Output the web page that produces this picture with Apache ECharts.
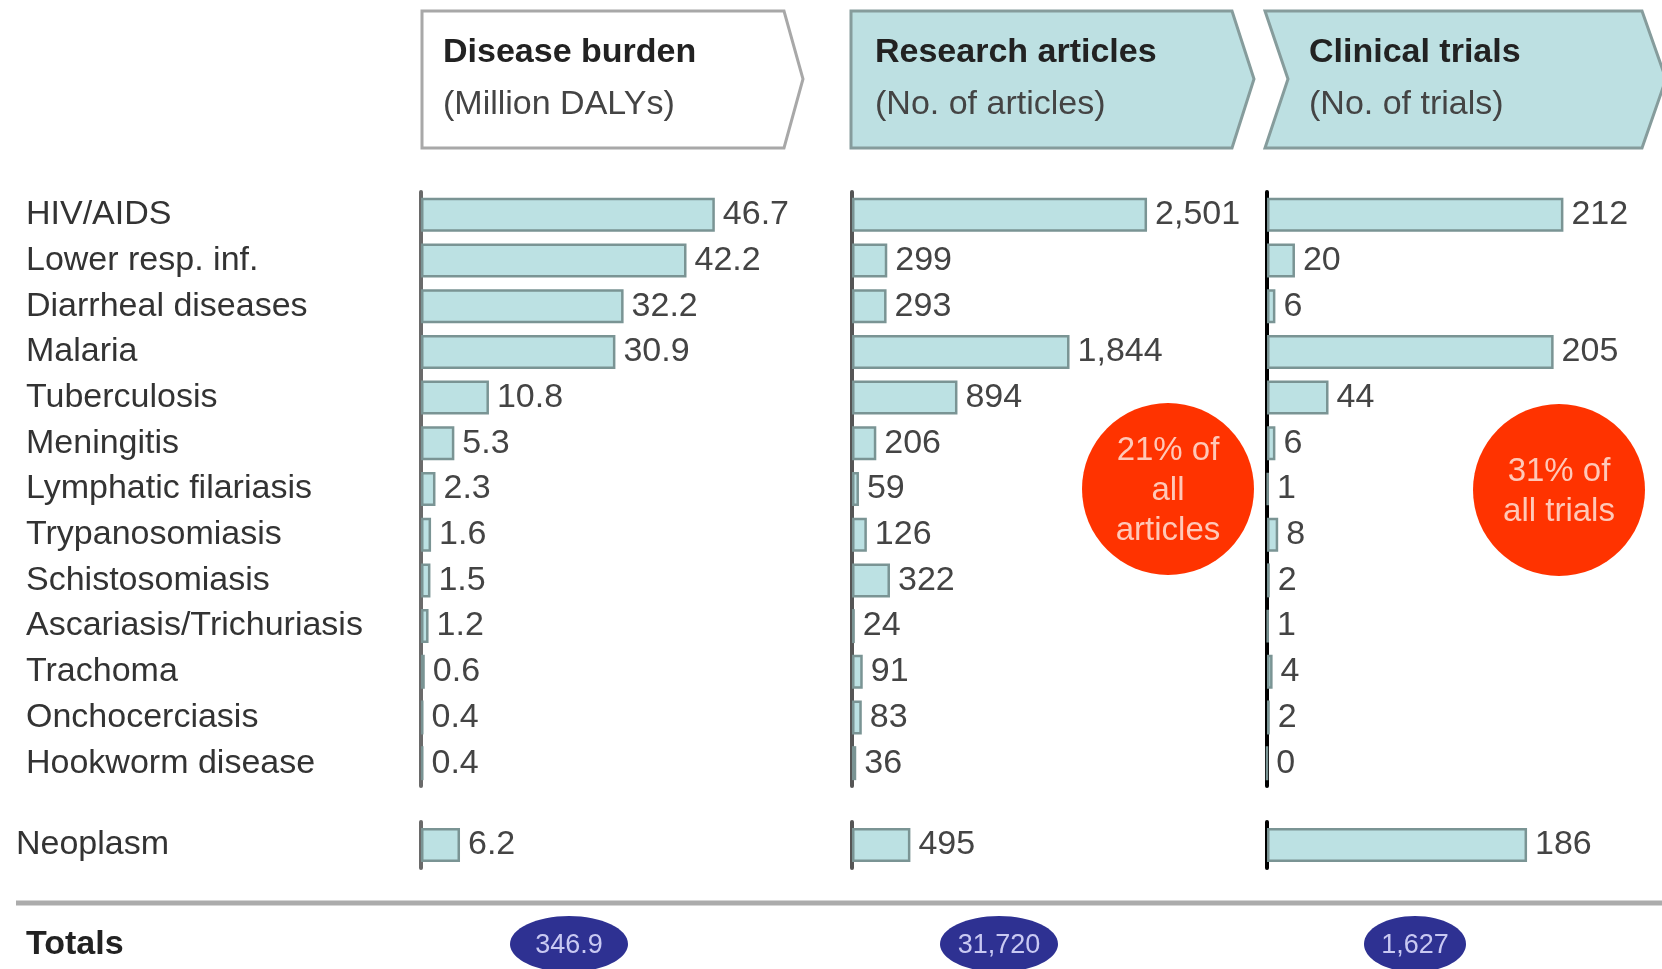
<!DOCTYPE html>
<html><head><meta charset="utf-8">
<script src="https://cdn.jsdelivr.net/npm/echarts@6/dist/echarts.min.js"></script>
<style>html,body{margin:0;padding:0;background:#fff}#c{width:1662px;height:969px}</style>
</head><body><div id="c"></div>
<script>
// ---- data ----
const categories = ['HIV/AIDS','Lower resp. inf.','Diarrheal diseases','Malaria','Tuberculosis','Meningitis','Lymphatic filariasis','Trypanosomiasis','Schistosomiasis','Ascariasis/Trichuriasis','Trachoma','Onchocerciasis','Hookworm disease'];
const dalys    = [46.7, 42.2, 32.2, 30.9, 10.8, 5.3, 2.3, 1.6, 1.5, 1.2, 0.6, 0.4, 0.4];
const articles = [2501, 299, 293, 1844, 894, 206, 59, 126, 322, 24, 91, 83, 36];
const trials   = [212, 20, 6, 205, 44, 6, 1, 8, 2, 1, 4, 2, 0];
const neoplasmCategory = ['Neoplasm'];
const neoplasmDalys = [6.2];
const neoplasmArticles = [495];
const neoplasmTrials = [186];
const panelTitles = ['Disease burden', 'Research articles', 'Clinical trials'];
const panelUnits = ['(Million DALYs)', '(No. of articles)', '(No. of trials)'];
const totalsLabel = 'Totals';
const totals = ['346.9', '31,720', '1,627'];
const shareNotes = ['21% of\nall\narticles', '31% of\nall trials'];

// ---- layout / style ----
const FONT = 'Liberation Sans, Arial, sans-serif';
const FS = 34;
const panelLeft = [421, 852, 1267];
const panelWidth = 302;
const panelMax = [48, 2560, 216];
const axisColors = ['#6a6a6a', '#555555', '#000000'];
const mainSeries = [dalys, articles, trials];
const neoSeries = [neoplasmDalys, neoplasmArticles, neoplasmTrials];
const fmt = [v => v.toFixed(1), v => v.toLocaleString('en-US'), v => String(v)];

const grids = [], xAxes = [], yAxes = [], series = [];
function addPanel(i, cats, data, top, height, showLabels, labelMargin) {
  const gi = grids.length;
  grids.push({left: panelLeft[i], width: panelWidth, top: top, height: height, outerBoundsMode: 'none', containLabel: false});
  xAxes.push({gridIndex: gi, type: 'value', min: 0, max: panelMax[i], show: false});
  yAxes.push({gridIndex: gi, type: 'category', data: cats, inverse: true,
    axisLine: {show: true, lineStyle: {color: axisColors[i], width: 4}},
    axisTick: {show: false}, splitLine: {show: false},
    axisLabel: {show: showLabels, align: 'left', margin: labelMargin, color: '#333', fontSize: FS, fontFamily: FONT, padding: [4, 0, 0, 0]}
  });
  series.push({type: 'bar', xAxisIndex: gi, yAxisIndex: gi, data: data, barWidth: 34,
    itemStyle: {color: '#bce1e3', borderColor: '#7a9494', borderWidth: 2.5},
    label: {show: true, position: 'right', distance: 8, color: '#444', fontSize: FS, fontFamily: FONT, padding: [4, 0, 0, 0],
      formatter: p => fmt[i](p.value)},
    silent: true, animation: false
  });
}
for (let i = 0; i < 3; i++) {
  addPanel(i, categories, mainSeries[i], 192, 594, i === 0, 395);
  addPanel(i, neoplasmCategory, neoSeries[i], 822, 46, i === 0, 405);
}

// ---- decorations ----
const graphic = [];
const headerShapes = [
  {pts: [[422,11],[784,11],[803,79],[784,148],[422,148]], fill: '#ffffff', stroke: '#a8a8a8'},
  {pts: [[851,11],[1232,11],[1254,79],[1232,148],[851,148]], fill: '#bde0e2', stroke: '#869c9c'},
  {pts: [[1265,11],[1642,11],[1666,79],[1642,148],[1265,148],[1288,79]], fill: '#bde0e2', stroke: '#869c9c'}
];
const headerTextX = [443, 875, 1309];
headerShapes.forEach((h, i) => {
  graphic.push({type: 'polygon', shape: {points: h.pts}, style: {fill: h.fill, stroke: h.stroke, lineWidth: 3}, z: 1});
  graphic.push({type: 'text', x: headerTextX[i], y: 53, style: {text: panelTitles[i], fill: '#222', font: 'bold ' + FS + 'px ' + FONT, verticalAlign: 'middle', align: 'left'}, z: 2});
  graphic.push({type: 'text', x: headerTextX[i], y: 105, style: {text: panelUnits[i], fill: '#444', font: FS + 'px ' + FONT, verticalAlign: 'middle', align: 'left'}, z: 2});
});
// share circles
const circleCenters = [[1168, 489], [1559, 490]];
circleCenters.forEach((c, i) => {
  graphic.push({type: 'circle', shape: {cx: c[0], cy: c[1], r: 86}, style: {fill: '#ff3300'}, z: 3});
  graphic.push({type: 'text', x: c[0], y: c[1] + 2, style: {text: shareNotes[i], fill: '#ffc8b8', font: '33px ' + FONT, align: 'center', verticalAlign: 'middle', lineHeight: 40}, z: 4});
});
// separator
graphic.push({type: 'line', shape: {x1: 16, y1: 903, x2: 1662, y2: 903}, style: {stroke: '#acacac', lineWidth: 5}, z: 1});
// totals
graphic.push({type: 'text', x: 26, y: 945, style: {text: totalsLabel, fill: '#222', font: 'bold ' + FS + 'px ' + FONT, verticalAlign: 'middle', align: 'left'}, z: 2});
const ovalC = [[569, 944, 59], [999, 944, 59], [1415, 944, 51]];
ovalC.forEach((o, i) => {
  graphic.push({type: 'ellipse', shape: {cx: o[0], cy: o[1], rx: o[2], ry: 28}, style: {fill: '#2e3192'}, z: 3});
  graphic.push({type: 'text', x: o[0], y: o[1] + 2, style: {text: totals[i], fill: '#c9c9f2', font: '27px ' + FONT, align: 'center', verticalAlign: 'middle'}, z: 4});
});

const chart = echarts.init(document.getElementById('c'), null, {renderer: 'canvas'});
chart.setOption({
  animation: false,
  backgroundColor: '#ffffff',
  grid: grids, xAxis: xAxes, yAxis: yAxes, series: series,
  graphic: graphic
});
</script>
</body></html>
